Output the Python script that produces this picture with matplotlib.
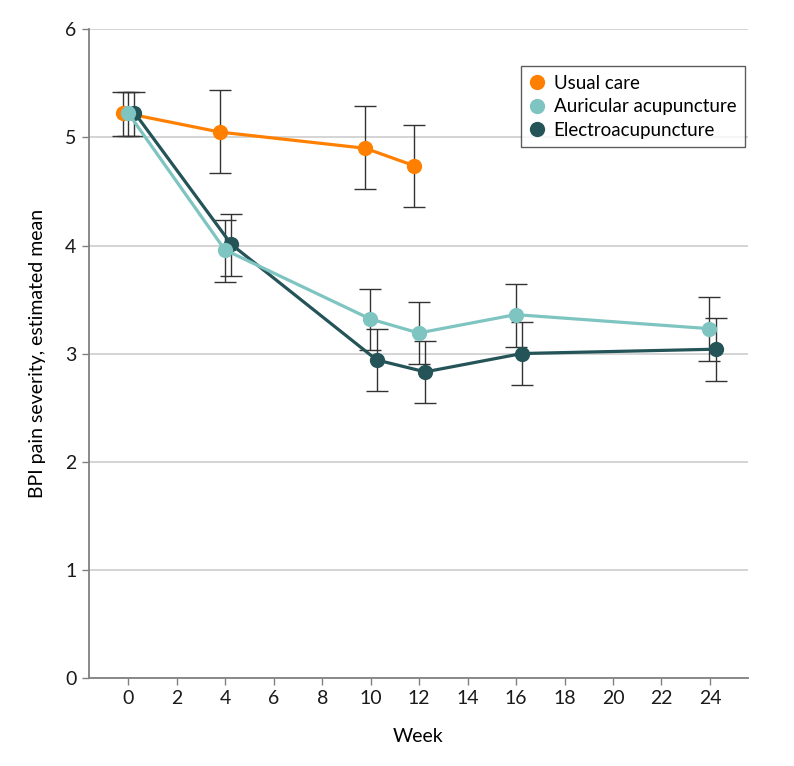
import matplotlib.pyplot as plt
import numpy as np

plt.rcParams['font.family'] = ['Lato', 'DejaVu Sans']

weeks_usual = [0, 4, 10, 12]
usual_mean = [5.23, 5.05, 4.90, 4.74]
usual_lo = [5.01, 4.67, 4.52, 4.36]
usual_hi = [5.42, 5.44, 5.29, 5.12]

weeks_acu = [0, 4, 10, 12, 16, 24]
auric_mean = [5.23, 3.96, 3.32, 3.19, 3.36, 3.23]
auric_lo = [5.01, 3.66, 3.03, 2.90, 3.06, 2.93]
auric_hi = [5.42, 4.24, 3.60, 3.48, 3.64, 3.52]

electro_mean = [5.23, 4.01, 2.94, 2.83, 3.00, 3.04]
electro_lo = [5.01, 3.72, 2.65, 2.54, 2.71, 2.75]
electro_hi = [5.42, 4.29, 3.23, 3.12, 3.29, 3.33]

series = [
    ("Usual care", weeks_usual, usual_mean, usual_lo, usual_hi, "#FF8000", -0.22, 3),
    ("Electroacupuncture", weeks_acu, electro_mean, electro_lo, electro_hi, "#245458", 0.25, 4),
    ("Auricular acupuncture", weeks_acu, auric_mean, auric_lo, auric_hi, "#7EC4C1", -0.02, 5),
]

fig = plt.figure(figsize=(7.94, 7.66), dpi=100)
ax = fig.add_axes([0.112, 0.1155, 0.830, 0.846])

handles = {}
for name, wk, m, lo, hi, col, off, z in series:
    x = np.array(wk) + off
    m = np.array(m)
    yerr = [m - np.array(lo), np.array(hi) - m]
    ax.errorbar(x, m, yerr=yerr, fmt='none', ecolor='#333333', elinewidth=1.0,
                capsize=8, capthick=1.0, zorder=2)
    h, = ax.plot(x, m, color=col, lw=2.3, marker='o', markersize=11,
                 markeredgewidth=0, zorder=z, label=name)
    handles[name] = h

ax.set_xlim(-1.63, 25.57)
ax.set_ylim(0, 6)
ax.set_xticks(range(0, 25, 2))
ax.set_yticks(range(0, 7))
ax.yaxis.grid(True, color='#d4d4d4', lw=1.4, zorder=0)
ax.set_axisbelow(True)
for s in ['top', 'right']:
    ax.spines[s].set_visible(False)
for s in ['left', 'bottom']:
    ax.spines[s].set_color('#808080')
    ax.spines[s].set_linewidth(1.3)
ax.tick_params(axis='both', colors='#808080', labelcolor='#1a1a1a', labelsize=14,
               length=5, width=1.0, pad=4)

ax.set_xlabel("Week", fontsize=14, labelpad=15)
ax.set_ylabel("BPI pain severity, estimated mean", fontsize=14, labelpad=14)

order = ["Usual care", "Auricular acupuncture", "Electroacupuncture"]
leg = ax.legend([handles[n] for n in order], order, loc='upper right',
                bbox_to_anchor=(0.995, 0.943), borderaxespad=0, fontsize=13.5,
                frameon=True, fancybox=False, handlelength=0.8, handletextpad=0.5,
                labelspacing=0.35, borderpad=0.45)
for h in leg.legend_handles:
    h.set_linestyle('none')
leg.get_frame().set_edgecolor('#333333')
leg.get_frame().set_linewidth(1.0)

plt.savefig("out.png", dpi=100)
